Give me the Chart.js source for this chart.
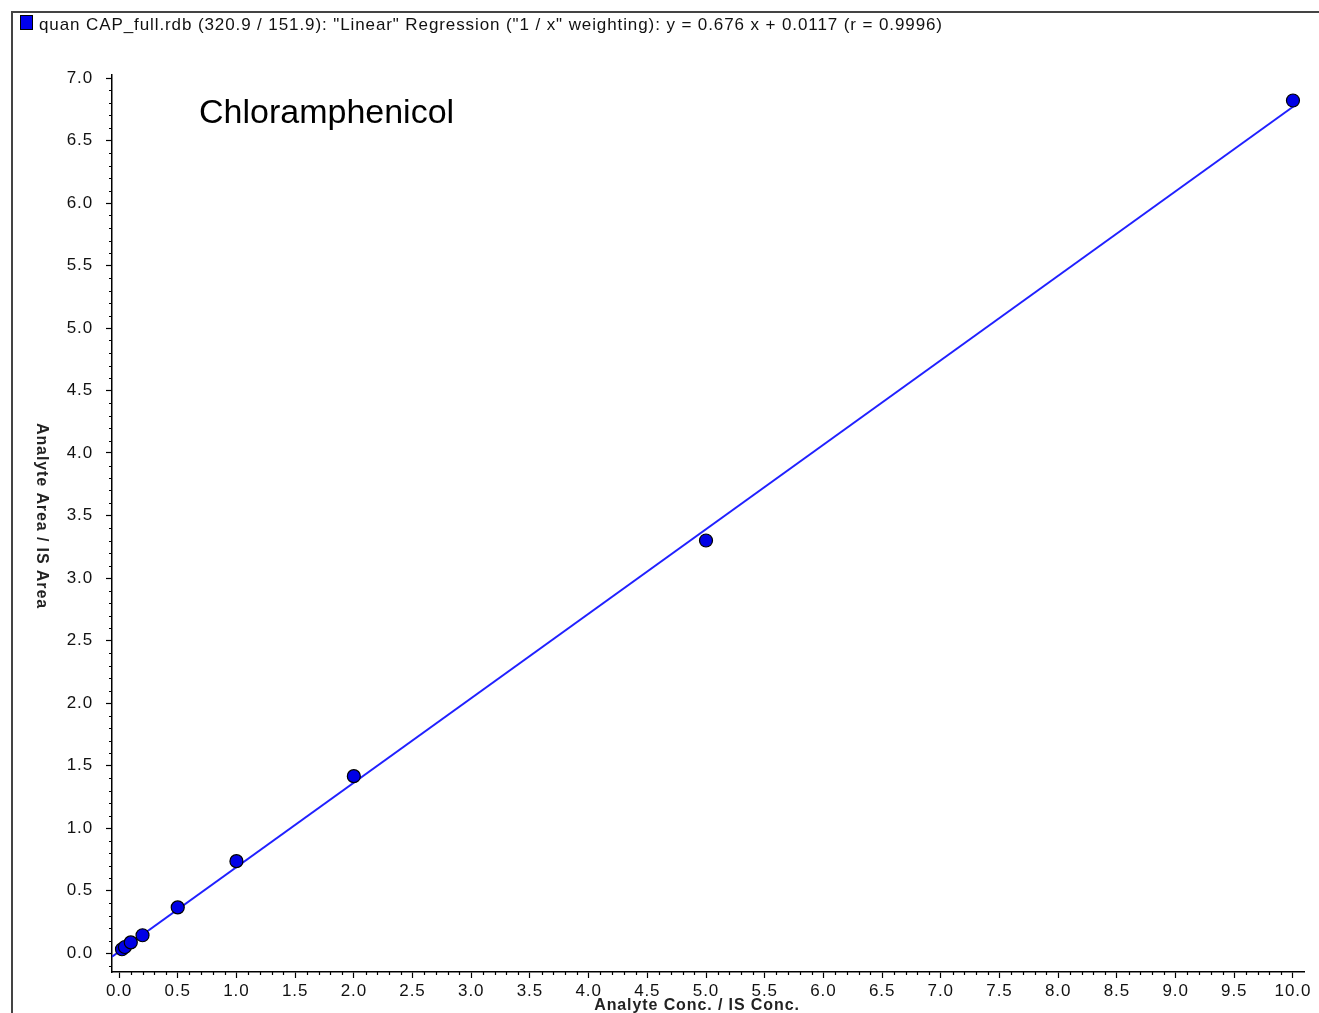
<!DOCTYPE html>
<html>
<head>
<meta charset="utf-8">
<script src="https://cdn.jsdelivr.net/npm/chart.js@4.4.1/dist/chart.umd.min.js"></script>
<style>
    html, body { margin: 0; padding: 0; background: #fff; }
    #wrap { position: relative; width: 1319px; height: 1013px; overflow: hidden; }
    #frame { position: absolute; left: 11px; top: 11px; right: -5px; bottom: -5px;
             border-top: 2px solid #444; border-left: 2px solid #444; }
    #header { position: absolute; left: 20px; top: 15px; font: 17px "Liberation Sans", Arial, sans-serif;
              letter-spacing: 0.9px; color: #111; white-space: nowrap; }
    #header span.key { display: inline-block; width: 11px; height: 13px; background: #0000ee;
                       border: 1px solid #000; margin-right: 6px; vertical-align: 0px; }
    canvas { position: absolute; left: 0; top: 0; }
</style>
</head>
<body>
<div id="wrap">
    <canvas id="calChart" width="1319" height="1013"></canvas>
    <div id="frame"></div>
    <div id="header"><span class="key"></span>quan CAP_full.rdb (320.9 / 151.9): "Linear" Regression ("1 / x" weighting): y = 0.676 x + 0.0117 (r = 0.9996)</div>
</div>
<script>
// calibration standards (x = analyte conc / IS conc, y = analyte area / IS area)
const concentrations = [0.025, 0.05, 0.1, 0.2, 0.5, 1, 2, 5, 10];
const areaRatios = [0.030, 0.048, 0.085, 0.142, 0.365, 0.735, 1.415, 3.30, 6.82];

// regression line endpoints
const fitX = [-0.06, 10.03];
const fitY = [-0.029, 6.79];

// tick labels
const xTickValues = [0, 0.5, 1, 1.5, 2, 2.5, 3, 3.5, 4, 4.5, 5, 5.5, 6, 6.5, 7, 7.5, 8, 8.5, 9, 9.5, 10];
const yTickValues = [0, 0.5, 1, 1.5, 2, 2.5, 3, 3.5, 4, 4.5, 5, 5.5, 6, 6.5, 7];

const chartTitle = 'Chloramphenicol';
const xTitle = 'Analyte Conc. / IS Conc.';
const yTitle = 'Analyte Area / IS Area';

document.addEventListener('DOMContentLoaded', () => {
    const fontFamily = '"Liberation Sans", Arial, sans-serif';

    // slightly wider text, like the original screenshot
    const spacingPlugin = {
        id: 'spacing',
        beforeLayout(chart) { chart.ctx.letterSpacing = '0.9px'; },
        beforeDraw(chart) { chart.ctx.letterSpacing = '0.9px'; }
    };

    // draws minor ticks every 0.1 plus the texts that sit outside the normal places
    const extrasPlugin = {
        id: 'extras',
        afterDraw(chart) {
            const ctx = chart.ctx;
            const xs = chart.scales.x;
            const ys = chart.scales.y;
            ctx.save();
            ctx.strokeStyle = '#000';
            ctx.lineWidth = 1.2;
            ctx.beginPath();
            for (let i = 0; i <= 100; i++) {
                if (i % 5 === 0) continue;
                const px = Math.round(xs.getPixelForValue(i / 10)) + 0.5;
                ctx.moveTo(px, xs.top);
                ctx.lineTo(px, xs.top + 3);
            }
            for (let i = -1; i <= 70; i++) {
                if (i % 5 === 0) continue;
                const py = Math.round(ys.getPixelForValue(i / 10)) + 0.5;
                ctx.moveTo(ys.right, py);
                ctx.lineTo(ys.right - 3, py);
            }
            ctx.stroke();

            ctx.letterSpacing = '0px';
            ctx.fillStyle = '#000';
            ctx.font = '34px ' + fontFamily;
            ctx.textAlign = 'left';
            ctx.textBaseline = 'alphabetic';
            ctx.fillText(chartTitle, 199, 123);

            ctx.letterSpacing = '0.9px';
            ctx.font = 'bold 16px ' + fontFamily;
            ctx.fillStyle = '#222';
            ctx.textAlign = 'center';
            ctx.textBaseline = 'middle';
            ctx.fillText(xTitle, 697, 1006);

            ctx.translate(41, 516);
            ctx.rotate(Math.PI / 2);
            ctx.fillText(yTitle, 0, 0);
            ctx.restore();
        }
    };

    const ctx = document.getElementById('calChart').getContext('2d');
    window.calChart = new Chart(ctx, {
        type: 'scatter',
        data: {
            datasets: [{
                label: 'fit',
                type: 'line',
                data: fitX.map((x, i) => ({ x: x, y: fitY[i] })),
                borderColor: '#2020ff',
                borderWidth: 2,
                pointRadius: 0,
                fill: false,
                order: 2
            }, {
                label: 'standards',
                data: concentrations.map((x, i) => ({ x: x, y: areaRatios[i] })),
                backgroundColor: '#0000e6',
                borderColor: '#000',
                borderWidth: 1.2,
                pointRadius: 6.5,
                order: 1
            }]
        },
        options: {
            responsive: false,
            animation: false,
            layout: { padding: { top: 75, right: 15, left: 0, bottom: 0 } },
            plugins: {
                legend: { display: false },
                tooltip: { enabled: false }
            },
            scales: {
                x: {
                    type: 'linear',
                    min: -0.06,
                    max: 10.094,
                    afterBuildTicks: (scale) => { scale.ticks = xTickValues.map(v => ({ value: v })); },
                    afterFit: (scale) => { scale.height = 41; },
                    border: { display: true, color: '#000', width: 1.5 },
                    grid: { display: true, drawOnChartArea: false, drawTicks: true, tickLength: 6, color: '#000', tickWidth: 1.2 },
                    ticks: {
                        autoSkip: false,
                        maxRotation: 0,
                        padding: 3,
                        color: '#111',
                        font: { family: fontFamily, size: 17 },
                        callback: (v) => Number(v).toFixed(1)
                    }
                },
                y: {
                    type: 'linear',
                    min: -0.152,
                    max: 7.024,
                    afterBuildTicks: (scale) => { scale.ticks = yTickValues.map(v => ({ value: v })); },
                    afterFit: (scale) => { scale.width = 112; },
                    border: { display: true, color: '#000', width: 1.5 },
                    grid: { display: true, drawOnChartArea: false, drawTicks: true, tickLength: 6, color: '#000', tickWidth: 1.2 },
                    ticks: {
                        autoSkip: false,
                        padding: 13,
                        color: '#111',
                        font: { family: fontFamily, size: 17 },
                        callback: (v) => Number(v).toFixed(1)
                    }
                }
            }
        },
        plugins: [spacingPlugin, extrasPlugin]
    });
});
</script>
</body>
</html>
